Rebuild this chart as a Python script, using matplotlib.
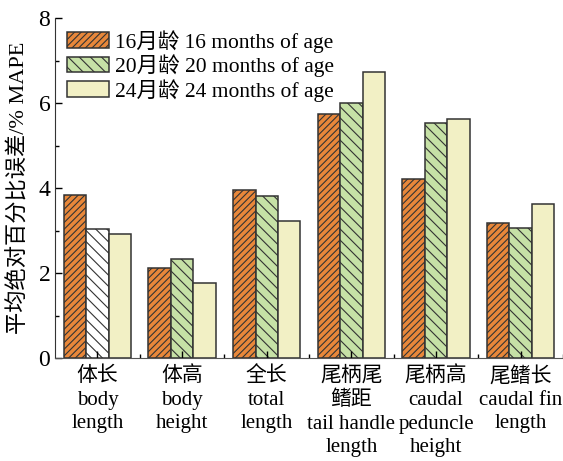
import matplotlib.pyplot as plt
import numpy as np

plt.rcParams['font.family'] = ['Liberation Serif', 'Noto Sans CJK SC']
plt.rcParams['hatch.linewidth'] = 0.8

groups = ['体长\nbody\nlength', '体高\nbody\nheight', '全长\ntotal\nlength',
          '尾柄尾\n鳍距\ntail handle\nlength', '尾柄高\ncaudal\npeduncle\nheight',
          '尾鳍长\ncaudal fin\nlength']
series = ['16月龄 16 months of age', '20月龄 20 months of age', '24月龄 24 months of age']
m16 = [3.84, 2.12, 3.96, 5.74, 4.21, 3.19]
m20 = [3.04, 2.33, 3.82, 6.00, 5.53, 3.06]
m24 = [2.92, 1.77, 3.23, 6.74, 5.63, 3.62]
colors = ['#E8873A', '#C6E1A6', '#F2F0C5']
hatches = ['/////', '\\\\\\', '']

fig = plt.figure(figsize=(5.63, 4.61), dpi=100)
ax = fig.add_axes([0.098, 0.223, 0.902, 0.738])

x = np.arange(len(groups))
w = 0.265
containers = []
for i, (vals, c, h, lab) in enumerate(zip([m16, m20, m24], colors, hatches, series)):
    bars = ax.bar(x + (i - 1) * w, vals, w, color=c, hatch=h, edgecolor='#333333',
                  linewidth=1.1, label=lab)
    containers.append(bars)

ax.set_xlim(-0.5, 5.5)
ax.set_ylim(0, 8)
ax.set_xticks(x)
ax.set_xticklabels(groups, fontsize=15, linespacing=1.32)
ax.set_xticks(np.arange(0.5, 5.6, 1), minor=True)
ax.set_yticks([0, 2, 4, 6, 8])
ax.set_yticks([1, 3, 5, 7], minor=True)
ax.tick_params(axis='both', which='major', direction='in', length=5, width=1, labelsize=17)
ax.tick_params(axis='both', which='minor', direction='in', length=3, width=1)
ax.tick_params(axis='x', which='major', pad=6, labelsize=15)
ax.spines['top'].set_visible(False)
ax.spines['right'].set_visible(False)
ax.spines['left'].set_color('#333333')
ax.spines['bottom'].set_color('#555555')
ax.set_ylabel('平均绝对百分比误差/% MAPE', fontsize=16, labelpad=6)

ax.legend(loc='upper left', bbox_to_anchor=(0.0, 1.0), frameon=False, fontsize=15.5,
          handlelength=1.95, handleheight=0.75, handletextpad=0.3, labelspacing=0.08,
          borderaxespad=0.15, borderpad=0.4)

# first 20-month bar is unfilled in the original (legend keeps the green)
containers[1][0].set_facecolor('white')

fig.savefig('out.png', dpi=100)
